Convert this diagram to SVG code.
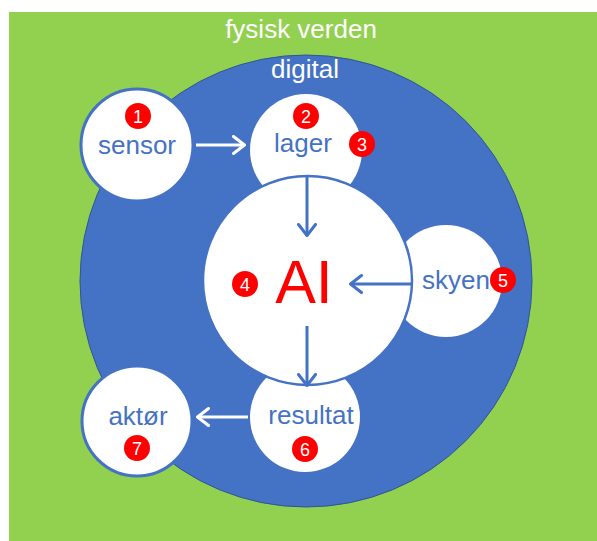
<svg xmlns="http://www.w3.org/2000/svg" width="597" height="541" viewBox="0 0 597 541">
<defs>
<style>
.lbl{font-family:"Liberation Sans",Arial,sans-serif;font-size:26px;fill:#4472C4;text-anchor:middle}
.ttl{font-family:"Liberation Sans",Arial,sans-serif;font-size:26px;fill:#FFFFFF;text-anchor:middle}
.num{font-family:"Liberation Sans",Arial,sans-serif;font-size:18px;fill:#FFFFFF;text-anchor:middle}
.badge{fill:#FF0000}
.node{fill:#FFFFFF}
.ring{fill:#FFFFFF;stroke:#4472C4;stroke-width:3}
.cw{stroke:#FFFFFF;stroke-width:3;fill:none}
.cb{stroke:#4472C4;stroke-width:3;fill:none}
</style>
<marker id="aw" viewBox="0 0 14 20" refX="13" refY="10" markerWidth="14" markerHeight="20" markerUnits="userSpaceOnUse" orient="auto">
<path d="M1.5,1.5 L12.5,10 L1.5,18.5" fill="none" stroke="#FFFFFF" stroke-width="3" stroke-linecap="round" stroke-linejoin="round"/>
</marker>
<marker id="ab" viewBox="0 0 14 20" refX="13" refY="10" markerWidth="14" markerHeight="20" markerUnits="userSpaceOnUse" orient="auto">
<path d="M1.5,1.5 L12.5,10 L1.5,18.5" fill="none" stroke="#4472C4" stroke-width="3" stroke-linecap="round" stroke-linejoin="round"/>
</marker>
</defs>
<rect x="9" y="12" width="588" height="529" fill="#92D050"/>
<g id="fysisk-verden"><text class="ttl" x="301" y="38">fysisk verden</text></g>
<g id="digital">
<circle cx="306" cy="281" r="226" fill="#4472C4" stroke="#2F5597" stroke-width="1"/>
<text class="ttl" x="305" y="78">digital</text>
</g>
<g id="sensor">
<circle class="ring" cx="137" cy="145" r="56"/>
<text class="lbl" x="137" y="154">sensor</text>
<circle class="badge" cx="138" cy="116" r="13"/><text class="num" x="138" y="122.5">1</text>
</g>
<g id="aktor">
<circle class="ring" cx="137" cy="421" r="55"/>
<text class="lbl" x="138" y="425">aktør</text>
<circle class="badge" cx="137" cy="448" r="13"/><text class="num" x="137" y="454.5">7</text>
</g>
<g id="lager">
<circle class="node" cx="306" cy="150" r="56"/>
<text class="lbl" x="303" y="152">lager</text>
<circle class="badge" cx="306" cy="116" r="13"/><text class="num" x="306" y="122.5">2</text>
<circle class="badge" cx="362" cy="144" r="13"/><text class="num" x="362" y="150.5">3</text>
</g>
<g id="skyen">
<circle class="node" cx="446" cy="281" r="56"/>
<text class="lbl" x="456" y="289">skyen</text>
<circle class="badge" cx="503" cy="280" r="13"/><text class="num" x="503" y="286.5">5</text>
</g>
<g id="resultat">
<circle class="node" cx="305" cy="417" r="55"/>
<text class="lbl" x="311" y="424">resultat</text>
<circle class="badge" cx="305" cy="449" r="13"/><text class="num" x="305" y="455.5">6</text>
</g>
<g id="ai">
<circle cx="307.5" cy="280.5" r="104.5" fill="#FFFFFF" stroke="#4472C4" stroke-width="2.5"/>
<text x="304" y="303" font-family="Liberation Sans,Arial,sans-serif" font-size="61" fill="#FF0000" text-anchor="middle">AI</text>
<circle class="badge" cx="245" cy="284" r="13"/><text class="num" x="245" y="290.5">4</text>
</g>
<g id="connectors">
<line class="cw" x1="196" y1="145" x2="245" y2="145" marker-end="url(#aw)"/>
<line class="cb" x1="307" y1="176" x2="307" y2="236" marker-end="url(#ab)"/>
<line class="cb" x1="411" y1="284" x2="350" y2="284" marker-end="url(#ab)"/>
<line class="cb" x1="307" y1="326" x2="307" y2="386" marker-end="url(#ab)"/>
<line class="cw" x1="248" y1="417" x2="197" y2="417" marker-end="url(#aw)"/>
</g>
</svg>
